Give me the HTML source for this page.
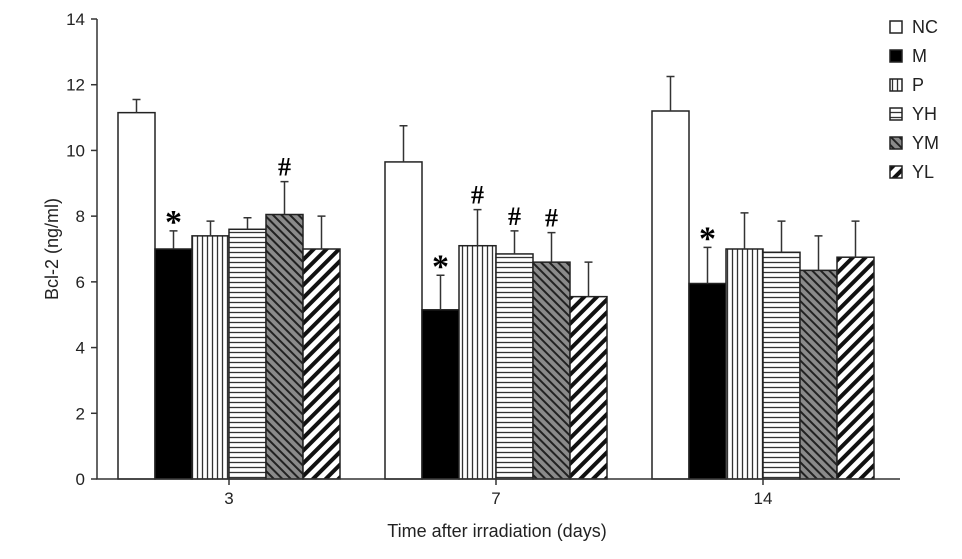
<!DOCTYPE html>
<html><head><meta charset="utf-8"><style>
body{margin:0;background:#fff}
svg{display:block;font-family:"Liberation Sans",Arial,sans-serif}
</style></head><body>
<svg id="chart" width="962" height="559" viewBox="0 0 962 559">
<defs>
<pattern id="pv" width="5" height="5" patternUnits="userSpaceOnUse"><rect width="5" height="5" fill="#fff"/><line x1="2.5" y1="0" x2="2.5" y2="5" stroke="#333" stroke-width="1.3"/></pattern>
<pattern id="ph" width="5" height="5" patternUnits="userSpaceOnUse"><rect width="5" height="5" fill="#fff"/><line x1="0" y1="2.5" x2="5" y2="2.5" stroke="#333" stroke-width="1.3"/></pattern>
<pattern id="pym" width="6" height="6" patternUnits="userSpaceOnUse" patternTransform="rotate(45)"><rect width="6" height="6" fill="#8a8a8a"/><line x1="0" y1="1" x2="6" y2="1" stroke="#222" stroke-width="2"/></pattern>
<pattern id="pyl" width="9" height="9" patternUnits="userSpaceOnUse" patternTransform="rotate(-45)"><rect width="9" height="9" fill="#fff"/><line x1="0" y1="2" x2="9" y2="2" stroke="#111" stroke-width="4"/></pattern>
</defs>
<g id="bars"></g>
<g id="axes"></g>
</svg>
<script>
const categories = ["3","7","14"];
const series = ["NC","M","P","YH","YM","YL"];
const nc = [11.15, 9.65, 11.2];
const m  = [7.0, 5.15, 5.95];
const p  = [7.4, 7.1, 7.0];
const yh = [7.6, 6.85, 6.9];
const ym = [8.05, 6.6, 6.35];
const yl = [7.0, 5.55, 6.75];
const ncErr = [0.4, 1.1, 1.05];
const mErr  = [0.55, 1.05, 1.1];
const pErr  = [0.45, 1.1, 1.1];
const yhErr = [0.35, 0.7, 0.95];
const ymErr = [1.0, 0.9, 1.05];
const ylErr = [1.0, 1.05, 1.1];
const marks = [["M",0,"*"],["YM",0,"#"],["M",1,"*"],["P",1,"#"],["YH",1,"#"],["YM",1,"#"],["M",2,"*"]];
const yTicks = [0,2,4,6,8,10,12,14];

const values=[nc,m,p,yh,ym,yl], errs=[ncErr,mErr,pErr,yhErr,ymErr,ylErr];
const fills=["#fff","#000","url(#pv)","url(#ph)","url(#pym)","url(#pyl)"];
const NS="http://www.w3.org/2000/svg";
const y0=479, y1=19, x0=97, xEnd=900, bw=37, gStart=118, gStep=267;
const Y=v=>y0-(v/14)*(y0-y1);
const svg=document.getElementById('chart'), gb=document.getElementById('bars'), ga=document.getElementById('axes');
function mk(tag,at,par){const e=document.createElementNS(NS,tag);for(const k in at)e.setAttribute(k,at[k]);par.appendChild(e);return e;}
categories.forEach((c,ci)=>{
  series.forEach((s,si)=>{
    const x=gStart+ci*gStep+si*bw, v=values[si][ci], e=errs[si][ci];
    const r=mk('rect',{x:x,y:Y(v),width:bw,height:y0-Y(v),fill:fills[si],stroke:"#222","stroke-width":1.5},gb);
    
    
    const cx=x+bw/2;
    const l=mk('path',{d:`M${cx},${Y(v)}V${Y(v+e)}M${cx-4},${Y(v+e)}H${cx+4}`,stroke:"#333","stroke-width":1.5,fill:"none"},gb);
    
    
  });
});
marks.forEach(([s,ci,ch])=>{
  const si=series.indexOf(s), x=gStart+ci*gStep+si*bw+bw/2, top=Y(values[si][ci]+errs[si][ci]);
  const t=mk('text',{x:x,y:ch=="*"?top+2:top-6,"text-anchor":"middle","font-size":ch=="*"?34:26,"font-weight":"bold","font-family":"Liberation Serif, serif"},gb);
  t.textContent=ch;
  
  
});
mk('path',{d:`M${x0},${y1}V${y0}H${xEnd}`,stroke:"#333","stroke-width":1.5,fill:"none"},ga);
yTicks.forEach(v=>{
  mk('line',{x1:x0-6,x2:x0,y1:Y(v),y2:Y(v),stroke:"#333","stroke-width":1.5},ga);
  const t=mk('text',{x:x0-12,y:Y(v)+6,"text-anchor":"end","font-size":17,fill:"#222"},ga);
  t.textContent=v;
  
  
});
categories.forEach((c,ci)=>{
  const cx=gStart+ci*gStep+3*bw;
  mk('line',{x1:cx,x2:cx,y1:y0,y2:y0+6,stroke:"#333","stroke-width":1.5},ga);
  const t=mk('text',{x:cx,y:y0+25,"text-anchor":"middle","font-size":17,fill:"#222"},ga);
  t.textContent=c;
  
  
});
let t=mk('text',{x:497,y:537,"text-anchor":"middle","font-size":18,fill:"#222"},ga);
t.textContent="Time after irradiation (days)";


t=mk('text',{x:0,y:0,transform:"translate(58,249) rotate(-90)","text-anchor":"middle","font-size":18,fill:"#222"},ga);
t.textContent="Bcl-2 (ng/ml)";


series.forEach((s,si)=>{
  const yy=21+si*29;
  const r=mk('rect',{x:890,y:yy,width:12,height:12,fill:fills[si],stroke:"#222","stroke-width":1.5},ga);
  
  
  const tx=mk('text',{x:912,y:yy+12,"font-size":18,fill:"#222"},ga);
  tx.textContent=s;
  
  
});
</script>
</body></html>
